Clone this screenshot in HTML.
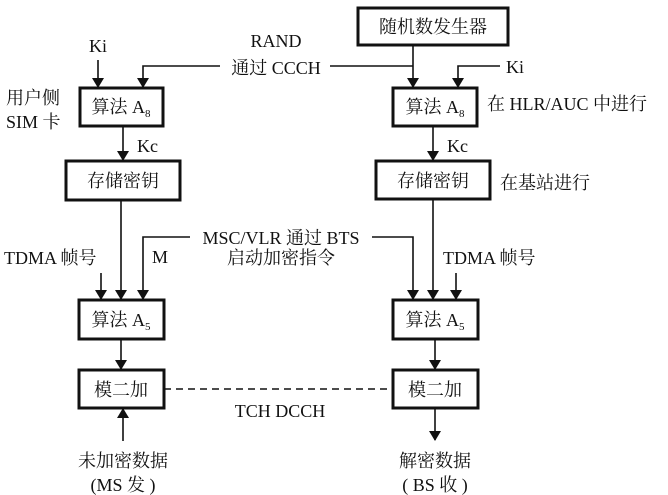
<!DOCTYPE html>
<html><head><meta charset="utf-8"><style>
html,body{margin:0;padding:0;background:#fff;}
svg{display:block;}
text{font-family:"Liberation Serif","Noto Serif CJK SC","Noto Sans CJK SC",serif;font-size:18px;fill:#111;}
.b{fill:#fff;stroke:#111;stroke-width:3;}
.l{stroke:#111;stroke-width:1.6;fill:none;}
</style></head><body>
<svg width="668" height="495" viewBox="0 0 668 495">
<defs><marker id="a" markerWidth="10" markerHeight="12" refX="9" refY="6" orient="auto" markerUnits="userSpaceOnUse"><path d="M0,0 L10,6 L0,12 Z" fill="#111"/></marker></defs>
<rect class="b" x="358" y="8" width="150" height="37"/>
<text x="433" y="33" text-anchor="middle" font-size="19">随机数发生器</text>
<rect class="b" x="80" y="88" width="83" height="38"/>
<text x="121" y="113" text-anchor="middle">算法 A<tspan font-size="11" dy="4">8</tspan></text>
<rect class="b" x="393" y="88" width="84" height="38"/>
<text x="435" y="113" text-anchor="middle">算法 A<tspan font-size="11" dy="4">8</tspan></text>
<rect class="b" x="66" y="161" width="114" height="39"/>
<text x="123" y="187" text-anchor="middle" font-size="19">存储密钥</text>
<rect class="b" x="376" y="161" width="114" height="38"/>
<text x="433" y="187" text-anchor="middle" font-size="19">存储密钥</text>
<rect class="b" x="79" y="300" width="85" height="39"/>
<text x="121" y="326" text-anchor="middle">算法 A<tspan font-size="11" dy="4">5</tspan></text>
<rect class="b" x="393" y="300" width="85" height="39"/>
<text x="435" y="326" text-anchor="middle">算法 A<tspan font-size="11" dy="4">5</tspan></text>
<rect class="b" x="79" y="370" width="85" height="38"/>
<text x="121" y="396" text-anchor="middle" font-size="19">模二加</text>
<rect class="b" x="393" y="370" width="85" height="38"/>
<text x="435" y="396" text-anchor="middle" font-size="19">模二加</text>
<path class="l" d="M98,60 V87" marker-end="url(#a)"/>
<text x="98" y="52" text-anchor="middle">Ki</text>
<path class="l" d="M220,66 H143 V87" marker-end="url(#a)"/>
<text x="276" y="47" text-anchor="middle">RAND</text>
<text x="276" y="74" text-anchor="middle">通过 CCCH</text>
<path class="l" d="M330,66 H413"/>
<path class="l" d="M413,45 V87" marker-end="url(#a)"/>
<path class="l" d="M500,66 H458 V87" marker-end="url(#a)"/>
<text x="506" y="73">Ki</text>
<text x="6" y="104">用户侧</text>
<text x="6" y="128">SIM 卡</text>
<text x="487" y="110">在 HLR/AUC 中进行</text>
<path class="l" d="M123,126 V160" marker-end="url(#a)"/>
<text x="137" y="152">Kc</text>
<path class="l" d="M433,126 V160" marker-end="url(#a)"/>
<text x="447" y="152">Kc</text>
<text x="500" y="189">在基站进行</text>
<path class="l" d="M121,200 V299" marker-end="url(#a)"/>
<path class="l" d="M433,199 V299" marker-end="url(#a)"/>
<path class="l" d="M101,273 V299" marker-end="url(#a)"/>
<path class="l" d="M456,273 V299" marker-end="url(#a)"/>
<path class="l" d="M190,237 H143 V299" marker-end="url(#a)"/>
<path class="l" d="M372,237 H413 V299" marker-end="url(#a)"/>
<text x="281" y="244" text-anchor="middle">MSC/VLR 通过 BTS</text>
<text x="281" y="264" text-anchor="middle">启动加密指令</text>
<text x="152" y="263">M</text>
<text x="4" y="264">TDMA 帧号</text>
<text x="443" y="264">TDMA 帧号</text>
<path class="l" d="M121,339 V369" marker-end="url(#a)"/>
<path class="l" d="M435,339 V369" marker-end="url(#a)"/>
<path class="l" d="M164,389 H393" stroke-dasharray="7,5"/>
<text x="280" y="417" text-anchor="middle">TCH DCCH</text>
<path class="l" d="M123,441 V409" marker-end="url(#a)"/>
<path class="l" d="M435,408 V440" marker-end="url(#a)"/>
<text x="123" y="467" text-anchor="middle" font-size="19">未加密数据</text>
<text x="123" y="491" text-anchor="middle">(MS 发 )</text>
<text x="435" y="467" text-anchor="middle" font-size="19">解密数据</text>
<text x="435" y="491" text-anchor="middle">( BS 收 )</text>
</svg>
</body></html>
